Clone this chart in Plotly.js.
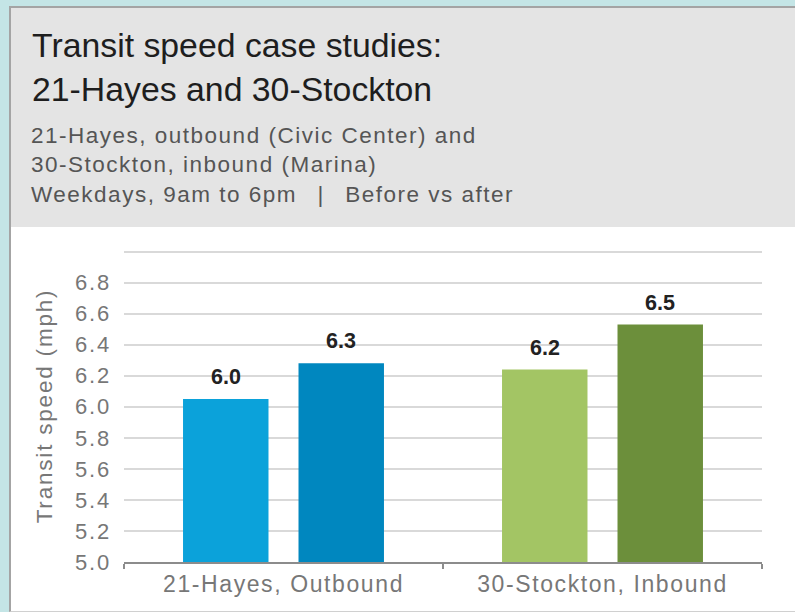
<!DOCTYPE html>
<html>
<head>
<meta charset="utf-8">
<script src="https://cdn.plot.ly/plotly-3.0.1.min.js"></script>
<style>
  html, body { margin: 0; padding: 0; }
  body { width: 795px; height: 612px; background: #c4e5e6; position: relative; overflow: hidden; }
  #panel { position: absolute; left: 9px; top: 6px; width: 790px; height: 603px; background: #ffffff;
           border-left: 2px solid #a4a4a4; border-top: 2px solid #a4a4a4; border-bottom: 1px solid #d0d0d0; }
  #header { position: absolute; left: 0; top: 0; right: 0; height: 219px; background: #e4e4e4; }
  #chart { position: absolute; left: 0; top: 0; width: 795px; height: 612px; }
  #chart .ytick text { letter-spacing: 1.8px; }
  #chart .xtick text { letter-spacing: 1.6px; }
  #chart .g-ytitle text { letter-spacing: 1.8px; }
  #chart .annotation[data-index="1"] text { letter-spacing: 1.5px; }
</style>
</head>
<body>
<div id="panel"><div id="header"></div></div>
<div id="chart"></div>
<script>
// ---- data ----
const categories = ['21-Hayes, Outbound', '30-Stockton, Inbound'];
const beforeValues = [6.05, 6.24];
const afterValues = [6.28, 6.53];
const beforeLabels = ['6.0', '6.2'];
const afterLabels = ['6.3', '6.5'];
const beforeColors = ['#0ba2da', '#a3c564'];
const afterColors = ['#0087bf', '#6c8f3b'];
const yTickVals = [5.0, 5.2, 5.4, 5.6, 5.8, 6.0, 6.2, 6.4, 6.6, 6.8, 7.0];
const yTickText = ['5.0', '5.2', '5.4', '5.6', '5.8', '6.0', '6.2', '6.4', '6.6', '6.8', ''];
const titleText = 'Transit speed case studies:<br>21-Hayes and 30-Stockton';
const subtitleText = '21-Hayes, outbound (Civic Center) and<br>30-Stockton, inbound (Marina)<br>Weekdays, 9am to 6pm \u2002|\u2002 Before vs after';
const yTitle = 'Transit speed (mph)';

// ---- layout constants ----
const W = 795, H = 612;
const M = { l: 124, r: 33, t: 250, b: 50 };
const BARGAP = 0.276, BARGROUPGAP = 0.26;
const plotW = W - M.l - M.r;
const catW = plotW / categories.length;
const slotW = catW * (1 - BARGAP) / 2;   // width of each grouped slot in px

const labelFont = { family: 'Liberation Sans, Arial, sans-serif', size: 21.5, color: '#222222', weight: 'bold' };

const traces = [
  {
    type: 'bar', name: 'Before', x: categories, y: beforeValues,
    marker: { color: beforeColors, line: { width: 0 } },
    hoverinfo: 'x+y'
  },
  {
    type: 'bar', name: 'After', x: categories, y: afterValues,
    marker: { color: afterColors, line: { width: 0 } },
    hoverinfo: 'x+y'
  }
];

// value labels above bars, derived from the data arrays
const valueAnnotations = [];
categories.forEach((c, i) => {
  valueAnnotations.push({ x: c, y: beforeValues[i], text: beforeLabels[i], xref: 'x', yref: 'y',
    xshift: -slotW / 2, yshift: 8, yanchor: 'bottom', showarrow: false, font: labelFont });
  valueAnnotations.push({ x: c, y: afterValues[i], text: afterLabels[i], xref: 'x', yref: 'y',
    xshift: slotW / 2, yshift: 8, yanchor: 'bottom', showarrow: false, font: labelFont });
});

const layout = {
  width: W, height: H,
  paper_bgcolor: 'rgba(0,0,0,0)',
  plot_bgcolor: 'rgba(0,0,0,0)',
  margin: M,
  showlegend: false,
  barmode: 'group',
  bargap: BARGAP,
  bargroupgap: BARGROUPGAP,
  font: { family: 'Liberation Sans, Arial, sans-serif', color: '#777777' },
  xaxis: {
    type: 'category',
    showgrid: false,
    showline: true, linecolor: '#8c8c8c', linewidth: 2,
    ticks: 'outside', tickson: 'boundaries', ticklen: 5, tickwidth: 2, tickcolor: '#8c8c8c',
    tickfont: { size: 23, color: '#777777' },
    fixedrange: true
  },
  yaxis: {
    range: [5.0, 7.01],
    tickvals: yTickVals, ticktext: yTickText,
    showgrid: true, gridcolor: '#d9d9d9', gridwidth: 2,
    zeroline: false, showline: false, ticks: '',
    ticklabelstandoff: 12,
    tickfont: { size: 22, color: '#777777' },
    title: { text: yTitle, font: { size: 22.5, color: '#777777' }, standoff: 21 },
    fixedrange: true
  },
  annotations: [
    {
      text: titleText, xref: 'paper', yref: 'paper',
      x: (30 - M.l) / plotW, y: (H - M.b - 24) / (H - M.t - M.b), xanchor: 'left', yanchor: 'top',
      align: 'left', showarrow: false,
      font: { family: 'Liberation Sans, Arial, sans-serif', size: 33.8, color: '#1e1e1e' }
    },
    {
      text: subtitleText, xref: 'paper', yref: 'paper',
      x: (29 - M.l) / plotW, y: (H - M.b - 121) / (H - M.t - M.b), xanchor: 'left', yanchor: 'top',
      align: 'left', showarrow: false,
      font: { family: 'Liberation Sans, Arial, sans-serif', size: 22.5, color: '#555555' }
    }
  ].concat(valueAnnotations)
};

Plotly.newPlot('chart', traces, layout, { displayModeBar: false, staticPlot: true });
</script>
</body>
</html>
